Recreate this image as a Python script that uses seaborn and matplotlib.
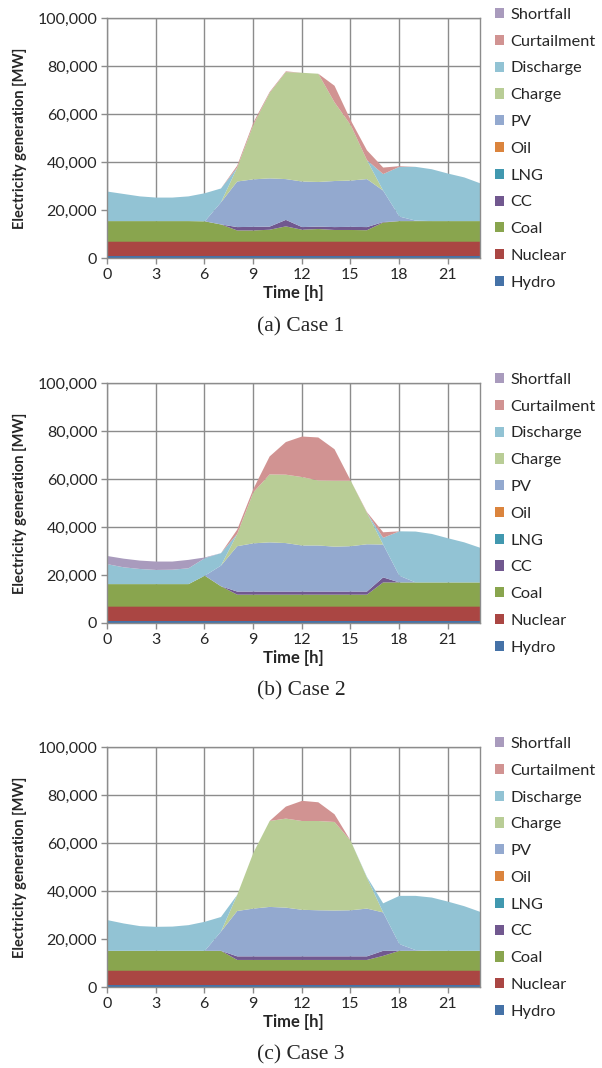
import matplotlib
matplotlib.use("Agg")
import matplotlib.pyplot as plt
import seaborn as sns
from matplotlib.patches import Patch
from matplotlib.ticker import FuncFormatter

# hours of the day
hours = list(range(24))

# generation mix, MW
hydro = [1000] * 24
nuclear = [6000] * 24
lng = [0] * 24
oil = [0] * 24

# case 1
coal1 = [8600, 8600, 8600, 8600, 8600, 8600, 8500, 7200, 4700, 4700, 5000, 6400,
         5000, 5300, 4900, 4900, 4800, 8000, 8600, 8600, 8600, 8600, 8600, 8600]
cc1 = [0, 0, 0, 0, 0, 0, 0, 0, 1400, 1500, 1300, 2700,
       1100, 1000, 1200, 1300, 1300, 200, 0, 0, 0, 0, 0, 0]
pv1 = [0, 0, 0, 0, 0, 0, 0, 9200, 19000, 19800, 20100, 17000,
       19000, 18600, 19200, 19300, 20000, 13100, 1900, 200, 0, 0, 0, 0]
charge1 = [0, 0, 0, 0, 0, 0, 0, 0, 5800, 22800, 35600, 44600,
           45300, 45100, 32800, 23100, 7900, 0, 0, 0, 0, 0, 0, 0]
discharge1 = [12300, 11300, 10300, 9800, 9800, 10300, 11700, 5800, 0, 0, 0, 0,
              0, 0, 0, 0, 0, 6900, 20700, 22400, 21600, 19800, 18200, 15700]
curtail1 = [0, 0, 0, 0, 0, 0, 0, 0, 800, 900, 400, 300,
            0, 0, 6900, 2000, 4100, 2700, 300, 0, 0, 0, 0, 0]
short1 = [0] * 24

# case 2
coal2 = [9400, 9400, 9400, 9400, 9400, 9400, 12900, 8500, 5000, 5000, 5000, 5000,
         5000, 5000, 5000, 5000, 5000, 10100, 10100, 10100, 10100, 10100, 10100, 10100]
cc2 = [0, 0, 0, 0, 0, 0, 0, 0, 1300, 1300, 1300, 1300,
       1300, 1300, 1300, 1300, 1300, 2100, 0, 0, 0, 0, 0, 0]
pv2 = [0, 0, 0, 0, 0, 0, 0, 8600, 18900, 20100, 20500, 20200,
       19200, 19200, 18700, 18900, 19700, 13700, 2800, 0, 0, 0, 0, 0]
charge2 = [0, 0, 0, 0, 0, 0, 0, 0, 5100, 21300, 28300, 28500,
           28500, 27100, 27500, 27300, 13100, 0, 0, 0, 0, 0, 0, 0]
discharge2 = [8300, 7000, 6300, 5900, 6000, 6600, 7300, 5200, 0, 0, 0, 0,
              0, 0, 0, 0, 0, 2800, 18500, 21200, 20200, 18400, 16700, 14400]
curtail2 = [0, 0, 0, 0, 0, 0, 0, 0, 1800, 1400, 7500, 13600,
            16900, 17900, 13100, 0, 300, 2300, 0, 0, 0, 0, 0, 0]
short2 = [3400, 3600, 3500, 3500, 3400, 3500, 300, 0, 0, 0, 0, 0,
          0, 0, 0, 0, 0, 0, 0, 0, 0, 0, 0, 0]

# case 3
coal3 = [8300, 8300, 8300, 8300, 8300, 8300, 8300, 8300, 4500, 4500, 4500, 4500,
         4500, 4500, 4500, 4500, 4500, 6200, 8300, 8300, 8300, 8300, 8300, 8300]
cc3 = [0, 0, 0, 0, 0, 0, 0, 0, 1500, 1500, 1500, 1500,
       1500, 1500, 1500, 1500, 1500, 2100, 0, 0, 0, 0, 0, 0]
pv3 = [0, 0, 0, 0, 0, 0, 0, 8000, 18900, 19900, 20600, 20300,
       19400, 19200, 19100, 19200, 19900, 16000, 2800, 300, 0, 0, 0, 0]
charge3 = [0, 0, 0, 0, 0, 0, 0, 0, 6700, 23300, 35800, 37100,
           37000, 37200, 36900, 28900, 12900, 0, 0, 0, 0, 0, 0, 0]
discharge3 = [12800, 11400, 10300, 10000, 10100, 10700, 12100, 6100, 0, 0, 0, 0,
              0, 0, 0, 0, 300, 3800, 20100, 22600, 22200, 20500, 18600, 16200]
curtail3 = [0, 0, 0, 0, 0, 0, 0, 0, 0, 0, 0, 5000,
            8400, 7800, 3200, 0, 0, 0, 0, 0, 0, 0, 0, 0]
short3 = [0] * 24

sources = ["Hydro", "Nuclear", "Coal", "CC", "LNG", "Oil", "PV",
           "Charge", "Discharge", "Curtailment", "Shortfall"]
colors = ["#4572A7", "#AA4643", "#89A54E", "#71588F", "#4198AF", "#DB843D",
          "#93A9CF", "#B9CD96", "#92C3D4", "#D19392", "#A99BBD"]

cases = [
    ("(a) Case 1", [hydro, nuclear, coal1, cc1, lng, oil, pv1, charge1, discharge1, curtail1, short1]),
    ("(b) Case 2", [hydro, nuclear, coal2, cc2, lng, oil, pv2, charge2, discharge2, curtail2, short2]),
    ("(c) Case 3", [hydro, nuclear, coal3, cc3, lng, oil, pv3, charge3, discharge3, curtail3, short3]),
]

sns.set_style("white")
plt.rcParams["font.family"] = ["Lato", "DejaVu Sans"]

fig = plt.figure(figsize=(6.02, 10.68), dpi=100)

grid_c = "#8C8C8C"
bottoms = [0.7584, 0.4167, 0.0758]
caption_y = [0.6938, 0.3530, 0.0122]

for (caption, layers), b, cy in zip(cases, bottoms, caption_y):
    ax = fig.add_axes([0.1777, b, 0.6196, 0.2247])
    ax.stackplot(hours, *layers, colors=colors, linewidth=0)
    ax.set_xlim(0, 23)
    ax.set_ylim(0, 100000)
    ax.set_xticks(range(0, 22, 3))
    ax.set_yticks(range(0, 100001, 20000))
    ax.yaxis.set_major_formatter(FuncFormatter(lambda v, p: f"{int(v):,}"))
    ax.set_axisbelow(True)
    ax.grid(True, color=grid_c, linewidth=1.0)
    for s in ax.spines.values():
        s.set_color(grid_c)
        s.set_linewidth(1.0)
    ax.tick_params(direction="out", length=4, width=1, color=grid_c,
                   labelsize=11.5, pad=3, left=True, bottom=True)
    ax.set_ylabel("Electricity generation [MW]", fontsize=10.5, fontweight="bold")
    ax.set_xlabel("Time [h]", fontsize=12, fontweight="bold")
    ax.xaxis.set_label_coords(0.5, -0.112)
    ax.yaxis.set_label_coords(-0.215, 0.5)

    handles = [Patch(facecolor=c, edgecolor="none") for c in colors][::-1]
    ax.legend(handles, sources[::-1], loc="center left",
              bbox_to_anchor=(1.04, 0.455), frameon=False, fontsize=11.8,
              handlelength=0.58, handleheight=0.58, handletextpad=0.35,
              labelspacing=0.78, borderaxespad=0, borderpad=0)

    fig.text(0.5, cy, caption, ha="center", va="center",
             family="Liberation Serif", fontsize=15.5)

fig.savefig("out.png", dpi=100)
